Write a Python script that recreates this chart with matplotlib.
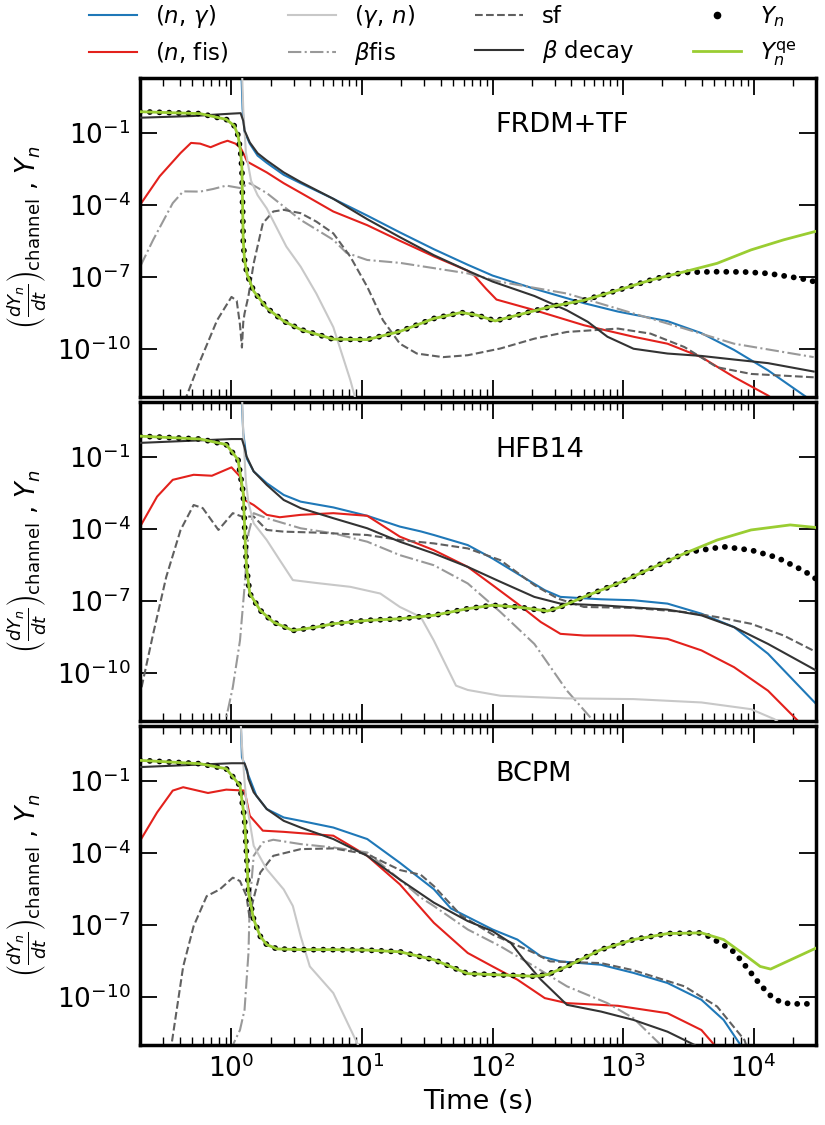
import matplotlib
matplotlib.use('Agg')
import matplotlib.pyplot as plt
import numpy as np
from matplotlib.lines import Line2D
from matplotlib.ticker import NullLocator

# values are [log10(t / s), log10(Y)]

# ---- FRDM+TF ----
frdm_ng = [[0.07, 2.5], [0.085, 0.0], [0.10, -0.95], [0.14, -1.45], [0.20, -1.95], [0.27, -2.25],
           [0.40, -2.75], [0.53, -3.1], [0.78, -3.75], [1.04, -4.45], [1.29, -5.15], [1.55, -5.85],
           [1.81, -6.5], [2.0, -6.95], [2.32, -7.5], [2.70, -8.1], [2.96, -8.45], [3.34, -8.85],
           [3.6, -9.35], [3.85, -10.05], [4.11, -10.9], [4.40, -12.0], [4.45, -12.3]]
frdm_nfis = [[-0.70, -4.0], [-0.55, -2.81], [-0.39, -1.84], [-0.31, -1.42], [-0.24, -1.45],
             [-0.16, -1.6], [-0.08, -1.42], [-0.03, -1.33], [0.03, -1.45], [0.07, -1.63],
             [0.10, -1.95], [0.12, -2.2], [0.18, -2.38], [0.27, -2.65], [0.40, -3.1], [0.53, -3.5],
             [0.78, -4.28], [1.04, -4.85], [1.29, -5.5], [1.55, -6.15], [1.81, -6.75], [1.86, -6.95],
             [1.95, -7.5], [2.03, -7.95], [2.32, -8.39], [2.70, -9.02], [3.08, -9.5], [3.34, -9.79],
             [3.6, -10.35], [3.85, -11.18], [4.11, -11.95], [4.2, -12.3]]
frdm_gn = [[0.075, 2.5], [0.09, 0.0], [0.11, -1.8], [0.15, -3.0], [0.20, -3.6], [0.27, -4.15],
           [0.42, -5.74], [0.53, -6.58], [0.65, -7.7], [0.78, -9.1], [0.91, -11.3], [0.96, -12.3]]
frdm_bfis = [[-0.70, -6.58], [-0.6, -5.46], [-0.45, -3.93], [-0.37, -3.44], [-0.24, -3.45],
             [-0.14, -3.34], [-0.04, -3.2], [0.065, -3.3], [0.14, -3.1], [0.27, -3.51],
             [0.53, -4.63], [0.78, -5.46], [0.88, -6.0], [1.04, -6.3], [1.29, -6.42], [1.81, -6.86],
             [2.06, -7.21], [2.57, -7.70], [3.08, -8.53], [3.47, -9.16], [3.85, -9.79], [4.46, -10.35]]
frdm_sf = [[-0.36, -12.2], [-0.24, -10.5], [-0.11, -8.81], [0.0, -7.84], [0.04, -8.0], [0.065, -9.0],
           [0.08, -9.95], [0.09, -8.9], [0.10, -8.53], [0.13, -7.8], [0.17, -6.44], [0.24, -4.77],
           [0.32, -4.28], [0.40, -4.21], [0.53, -4.35], [0.65, -4.70], [0.78, -5.19], [0.91, -6.16],
           [1.04, -7.42], [1.16, -8.81], [1.29, -9.79], [1.42, -10.2], [1.62, -10.35], [1.81, -10.27],
           [2.06, -9.99], [2.32, -9.58], [2.57, -9.30], [2.96, -9.16], [3.21, -9.37], [3.47, -9.93],
           [3.72, -10.77], [3.98, -11.05], [4.46, -11.19]]
frdm_beta = [[-0.70, -0.37], [-0.3, -0.3], [0.0, -0.2], [0.07, -0.18], [0.09, -0.5], [0.10, -0.9],
             [0.14, -1.4], [0.20, -1.85], [0.27, -2.15], [0.40, -2.65], [0.53, -3.05], [0.78, -3.75],
             [1.04, -4.6], [1.29, -5.35], [1.55, -6.1], [1.81, -6.75], [2.0, -7.2], [2.32, -7.8],
             [2.57, -8.4], [2.73, -8.88], [2.88, -9.5], [3.08, -10.0], [3.34, -10.2], [3.6, -10.3],
             [3.85, -10.45], [4.11, -10.6], [4.46, -10.95]]
frdm_qe = [[-0.70, -0.12], [-0.24, -0.2], [-0.04, -0.44], [0.02, -0.7], [0.05, -1.1], [0.07, -1.8],
           [0.08, -2.5], [0.085, -4.0], [0.09, -5.5], [0.10, -6.3], [0.12, -6.9], [0.17, -7.6],
           [0.27, -8.3], [0.40, -8.85], [0.53, -9.2], [0.78, -9.6], [1.04, -9.62], [1.29, -9.28],
           [1.55, -8.74], [1.76, -8.49], [1.88, -8.6], [2.02, -8.84], [2.19, -8.60], [2.44, -8.25],
           [2.70, -7.98], [2.96, -7.56], [3.21, -7.14], [3.47, -6.79], [3.72, -6.44], [3.98, -5.88],
           [4.23, -5.46], [4.48, -5.1]]
frdm_yn = [[-0.70, -0.12], [-0.24, -0.2], [-0.04, -0.44], [0.02, -0.7], [0.05, -1.1], [0.07, -1.8],
           [0.08, -2.5], [0.085, -4.0], [0.09, -5.5], [0.10, -6.3], [0.12, -6.9], [0.17, -7.6],
           [0.27, -8.3], [0.40, -8.85], [0.53, -9.2], [0.78, -9.6], [1.04, -9.62], [1.29, -9.28],
           [1.55, -8.74], [1.76, -8.49], [1.88, -8.6], [2.02, -8.84], [2.19, -8.60], [2.44, -8.25],
           [2.70, -7.98], [2.96, -7.56], [3.21, -7.14], [3.34, -6.95], [3.47, -6.82], [3.6, -6.8],
           [3.72, -6.79], [3.93, -6.8], [4.11, -6.86], [4.36, -7.07], [4.48, -7.22]]

# ---- HFB14 ----
hfb_ng = [[0.07, 2.5], [0.09, 0.0], [0.115, -1.04], [0.17, -1.6], [0.27, -2.09], [0.40, -2.58],
          [0.53, -2.86], [0.78, -3.1], [1.04, -3.45], [1.29, -3.9], [1.45, -4.1], [1.55, -4.25],
          [1.81, -4.67], [2.0, -5.23], [2.19, -5.86], [2.40, -6.55], [2.52, -6.83], [2.83, -6.93],
          [3.08, -6.97], [3.34, -7.11], [3.6, -7.53], [3.85, -8.09], [4.11, -9.20], [4.48, -11.30]]
hfb_nfis = [[-0.70, -3.90], [-0.57, -2.65], [-0.45, -1.95], [-0.29, -1.74], [-0.15, -1.78],
            [-0.03, -1.5], [0.0, -1.43], [0.065, -1.81], [0.10, -2.79], [0.17, -3.0], [0.27, -3.41],
            [0.37, -3.51], [0.53, -3.41], [0.78, -3.34], [1.04, -3.45], [1.29, -4.32], [1.55, -4.88],
            [1.81, -5.58], [2.0, -6.34], [2.19, -7.11], [2.37, -7.88], [2.52, -8.37], [2.70, -8.44],
            [3.08, -8.44], [3.34, -8.58], [3.6, -9.06], [3.85, -9.76], [4.11, -10.74], [4.34, -12.0],
            [4.4, -12.3]]
hfb_gn = [[0.075, 2.5], [0.09, 0.0], [0.11, -2.0], [0.13, -2.9], [0.17, -3.76], [0.27, -4.46],
          [0.37, -5.30], [0.47, -6.13], [0.65, -6.25], [0.91, -6.41], [1.14, -6.69], [1.29, -7.25],
          [1.45, -7.67], [1.55, -8.65], [1.72, -10.53], [1.81, -10.71], [2.06, -10.95], [2.57, -11.06],
          [3.08, -11.09], [3.6, -11.23], [3.98, -11.51], [4.16, -11.93], [4.25, -12.3]]
hfb_bfis = [[-0.07, -12.5], [-0.04, -11.86], [0.01, -10.6], [0.065, -8.65], [0.10, -6.41],
            [0.13, -4.18], [0.17, -3.34], [0.27, -3.55], [0.53, -3.97], [0.78, -4.18], [1.04, -4.53],
            [1.29, -5.09], [1.55, -5.51], [1.81, -6.27], [2.06, -7.46], [2.32, -8.79], [2.57, -10.74],
            [2.75, -11.86], [2.8, -12.3]]
hfb_sf = [[-0.72, -11.5], [-0.70, -10.88], [-0.6, -8.37], [-0.50, -6.0], [-0.39, -4.04], [-0.29, -3.0],
          [-0.22, -3.13], [-0.10, -4.04], [0.01, -3.34], [0.08, -3.48], [0.17, -3.48], [0.27, -4.04],
          [0.40, -4.11], [0.65, -4.15], [1.04, -4.25], [1.29, -4.46], [1.55, -4.60], [1.81, -4.81],
          [2.06, -5.30], [2.32, -6.34], [2.50, -6.90], [2.70, -7.25], [3.08, -7.29], [3.47, -7.46],
          [3.72, -7.67], [3.98, -7.95], [4.23, -8.44], [4.48, -9.13]]
hfb_beta = [[-0.70, -0.41], [0.0, -0.25], [0.08, -0.25], [0.10, -0.6], [0.115, -0.97], [0.17, -1.60],
            [0.27, -2.16], [0.40, -2.79], [0.53, -3.13], [0.78, -3.55], [1.04, -3.97], [1.29, -4.53],
            [1.55, -5.02], [1.81, -5.58], [2.06, -6.20], [2.32, -6.83], [2.52, -7.11], [2.83, -7.18],
            [3.34, -7.36], [3.6, -7.60], [3.85, -8.09], [4.11, -8.79], [4.48, -9.90]]
hfb_qe = [[-0.70, -0.13], [-0.24, -0.25], [-0.04, -0.48], [0.05, -1.11], [0.09, -2.51], [0.105, -4.5],
          [0.115, -5.58], [0.14, -6.69], [0.22, -7.39], [0.32, -7.88], [0.47, -8.23], [0.65, -8.09],
          [0.78, -7.95], [1.04, -7.81], [1.29, -7.74], [1.55, -7.60], [1.81, -7.32], [2.0, -7.18],
          [2.19, -7.25], [2.42, -7.42], [2.52, -7.25], [2.70, -6.83], [2.96, -6.27], [3.21, -5.65],
          [3.47, -5.02], [3.72, -4.46], [3.98, -4.04], [4.28, -3.83], [4.48, -3.94]]
hfb_yn = [[-0.70, -0.13], [-0.24, -0.25], [-0.04, -0.48], [0.05, -1.11], [0.09, -2.51], [0.105, -4.5],
          [0.115, -5.58], [0.14, -6.69], [0.22, -7.39], [0.32, -7.88], [0.47, -8.23], [0.65, -8.09],
          [0.78, -7.95], [1.04, -7.81], [1.29, -7.74], [1.55, -7.60], [1.81, -7.32], [2.0, -7.18],
          [2.19, -7.25], [2.42, -7.42], [2.52, -7.25], [2.70, -6.83], [2.96, -6.27], [3.21, -5.65],
          [3.47, -5.02], [3.55, -4.92], [3.77, -4.74], [3.98, -4.88], [4.18, -5.19], [4.39, -5.76],
          [4.48, -6.09]]

# ---- BCPM ----
bcpm_ng = [[0.065, 2.5], [0.08, 0.0], [0.13, -0.76], [0.19, -1.6], [0.27, -2.16], [0.40, -2.51],
           [0.53, -2.65], [0.78, -2.93], [1.04, -3.41], [1.29, -4.4], [1.55, -5.5], [1.68, -6.3],
           [2.0, -7.18], [2.19, -7.60], [2.37, -8.30], [2.52, -8.51], [2.83, -8.65], [3.08, -8.99],
           [3.34, -9.41], [3.6, -10.11], [3.77, -10.95], [3.9, -12.0], [3.93, -12.3]]
bcpm_nfis = [[-0.70, -3.48], [-0.57, -2.30], [-0.45, -1.39], [-0.37, -1.25], [-0.18, -1.49],
             [-0.04, -1.35], [0.10, -1.39], [0.14, -2.44], [0.24, -3.06], [0.40, -3.11], [0.78, -3.27],
             [1.04, -4.11], [1.29, -5.3], [1.55, -6.90], [1.81, -8.16], [2.0, -8.72], [2.19, -9.27],
             [2.40, -10.04], [2.57, -10.25], [2.96, -10.36], [3.34, -10.67], [3.6, -11.37], [3.70, -12.0],
             [3.75, -12.3]]
bcpm_gn = [[0.06, 2.5], [0.08, 0.5], [0.10, -1.0], [0.115, -1.88], [0.17, -3.69], [0.27, -4.67],
           [0.40, -5.51], [0.47, -6.2], [0.53, -7.46], [0.60, -8.72], [0.78, -9.83], [0.97, -12.0],
           [0.99, -12.3]]
bcpm_bfis = [[-0.01, -12.3], [0.01, -12.0], [0.065, -11.37], [0.10, -10.53], [0.13, -8.16], [0.14, -6.06],
             [0.17, -4.11], [0.24, -3.55], [0.32, -3.44], [0.53, -3.62], [0.78, -3.76], [1.04, -3.97],
             [1.29, -5.1], [1.45, -5.85], [1.55, -6.20], [1.81, -7.18], [2.06, -7.88], [2.32, -8.72],
             [2.57, -9.55], [2.88, -10.25], [3.08, -10.88], [3.29, -12.0], [3.33, -12.3]]
bcpm_sf = [[-0.47, -12.3], [-0.46, -12.0], [-0.37, -8.72], [-0.29, -7.04], [-0.19, -5.79], [-0.09, -5.51],
           [0.01, -5.02], [0.065, -5.16], [0.115, -5.79], [0.14, -6.76], [0.155, -6.2], [0.22, -4.81],
           [0.32, -4.11], [0.53, -3.83], [0.78, -3.80], [1.04, -4.04], [1.29, -4.7], [1.45, -4.9],
           [1.55, -5.37], [1.76, -6.6], [2.0, -7.39], [2.32, -8.16], [2.44, -8.51], [2.83, -8.58],
           [3.08, -8.88], [3.47, -9.55], [3.72, -10.39], [3.93, -11.79], [3.96, -12.3]]
bcpm_beta = [[-0.70, -0.41], [0.0, -0.25], [0.10, -0.25], [0.12, -0.55], [0.13, -0.9], [0.17, -1.46],
             [0.27, -2.16], [0.40, -2.65], [0.53, -2.93], [0.78, -3.41], [1.04, -4.11], [1.29, -5.1],
             [1.55, -6.06], [1.81, -6.83], [2.0, -7.25], [2.14, -7.74], [2.24, -8.44], [2.37, -9.27],
             [2.57, -10.32], [2.83, -10.6], [3.08, -10.95], [3.34, -11.44], [3.55, -12.0], [3.6, -12.3]]
bcpm_qe = [[-0.70, -0.13], [-0.24, -0.27], [-0.04, -0.48], [0.065, -1.18], [0.10, -2.58], [0.12, -4.5],
           [0.13, -5.65], [0.17, -6.76], [0.22, -7.46], [0.27, -7.81], [0.35, -7.99], [0.53, -8.02],
           [0.78, -8.02], [1.04, -8.04], [1.29, -8.11], [1.55, -8.44], [1.81, -9.02], [2.0, -9.06],
           [2.32, -9.13], [2.42, -9.06], [2.57, -8.72], [2.83, -8.02], [3.08, -7.60], [3.34, -7.35],
           [3.6, -7.32], [3.77, -7.60], [3.93, -8.23], [4.05, -8.72], [4.13, -8.83], [4.48, -7.95]]
bcpm_yn = [[-0.70, -0.13], [-0.24, -0.27], [-0.04, -0.48], [0.065, -1.18], [0.10, -2.58], [0.12, -4.5],
           [0.13, -5.65], [0.17, -6.76], [0.22, -7.46], [0.27, -7.81], [0.35, -7.99], [0.53, -8.02],
           [0.78, -8.02], [1.04, -8.04], [1.29, -8.11], [1.55, -8.44], [1.81, -9.02], [2.0, -9.06],
           [2.32, -9.13], [2.42, -9.06], [2.57, -8.72], [2.83, -8.02], [3.08, -7.60], [3.34, -7.35],
           [3.6, -7.32], [3.65, -7.45], [3.75, -7.77], [3.83, -8.02], [3.9, -8.44], [3.98, -8.99],
           [4.05, -9.48], [4.13, -9.94], [4.21, -10.22], [4.29, -10.28], [4.47, -10.28]]

models = ['FRDM+TF', 'HFB14', 'BCPM']
panels = [
    [frdm_ng, frdm_nfis, frdm_gn, frdm_bfis, frdm_sf, frdm_beta, frdm_yn, frdm_qe],
    [hfb_ng, hfb_nfis, hfb_gn, hfb_bfis, hfb_sf, hfb_beta, hfb_yn, hfb_qe],
    [bcpm_ng, bcpm_nfis, bcpm_gn, bcpm_bfis, bcpm_sf, bcpm_beta, bcpm_yn, bcpm_qe],
]

labels = [r'$(n,\,\gamma)$', r'$(n$, fis)', r'$(\gamma,\,n)$', r'$\beta$fis', 'sf',
          r'$\beta$ decay', r'$Y_n$', r'$Y_n^{\rm qe}$']
styles = [
    dict(color='#1f78b8', ls='-', lw=1.5),
    dict(color='#e3211c', ls='-', lw=1.5),
    dict(color='#c8c8c8', ls='-', lw=1.5),
    dict(color='#999999', ls='-.', lw=1.5),
    dict(color='#606060', ls='--', lw=1.5),
    dict(color='#333333', ls='-', lw=1.5),
    dict(color='black', ls=(0, (0.01, 1.65)), lw=4.2, dash_capstyle='round'),
    dict(color='#9acd32', ls='-', lw=2.0),
]
zorders = [2, 2, 3, 2, 2, 3, 4, 5]

fig, axes = plt.subplots(3, 1, sharex=True, figsize=(8.25, 11.25), dpi=100)
fig.subplots_adjust(left=0.170, right=0.989, top=0.931, bottom=0.071, hspace=0.016)

for ax, name, series in zip(axes, models, panels):
    for s, st, z in zip(series, styles, zorders):
        a = np.array(s)
        ax.plot(10 ** a[:, 0], 10 ** a[:, 1], zorder=z, **st)
    ax.set_xscale('log')
    ax.set_yscale('log')
    ax.set_xlim(0.2, 3e4)
    ax.set_ylim(1e-12, 20)
    ax.set_yticks([1e-10, 1e-7, 1e-4, 1e-1])
    ax.yaxis.set_minor_locator(NullLocator())
    ax.tick_params(which='both', direction='in', top=True, right=True, labelsize=19)
    ax.tick_params(which='major', length=12, width=1.3, pad=7)
    ax.tick_params(which='minor', length=6, width=1.0)
    for sp in ax.spines.values():
        sp.set_linewidth(2.5)
    ax.text(0.525, 0.85, name, transform=ax.transAxes, fontsize=19.5, va='center', ha='left')
    ax.set_ylabel(r'$\left(\frac{dY_n}{dt}\right)_{\rm channel}$ , $Y_n$', fontsize=18.5, labelpad=6)

axes[-1].set_xlabel('Time (s)', fontsize=19.5)

handles = []
for st in styles[:6]:
    handles.append(Line2D([], [], **st))
handles.append(Line2D([], [], color='black', ls='none', marker='o', markersize=4.5))
handles.append(Line2D([], [], **styles[7]))
fig.legend(handles, labels, loc='upper left', bbox_to_anchor=(0.0824, 1.016), ncol=4,
           frameon=False, fontsize=16.5, handlelength=2.1, handletextpad=0.8,
           columnspacing=2.6, labelspacing=0.45)

fig.savefig('out.png', dpi=100)
